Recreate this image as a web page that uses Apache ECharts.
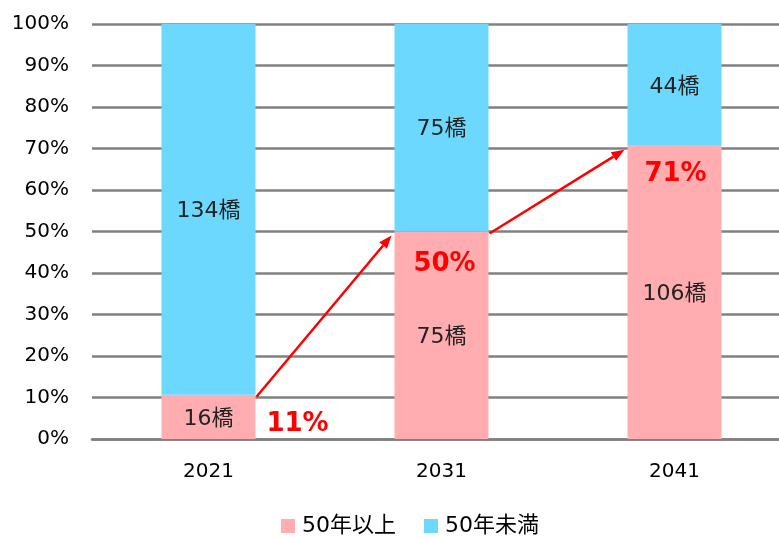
<!DOCTYPE html>
<html>
<head>
<meta charset="utf-8">
<script src="https://cdn.jsdelivr.net/npm/echarts@6/dist/echarts.min.js"></script>
<style>
html, body { margin: 0; padding: 0; background: #fff; }
#bridges { width: 779px; height: 539px; }
</style>
</head>
<body>
<div id="bridges"></div>
<script>
// 年度
var years = ['2021', '2031', '2041']
// 橋の数
var over50 = [16, 75, 106]
var under50 = [134, 75, 44]
var seriesNames = ['50年以上', '50年未満']
var yTicks = [0, 10, 20, 30, 40, 50, 60, 70, 80, 90, 100]

var font = '"DejaVu Sans", "Noto Sans CJK JP", sans-serif'
var pink = '#FFADB0'
var blue = '#6DD8FE'
var barW = 94

var overPct = [], underPct = []
for (var i = 0; i < years.length; i++) {
  var total = over50[i] + under50[i]
  overPct.push(over50[i] / total * 100)
  underPct.push(under50[i] / total * 100)
}

// 赤い%ラベルの位置（バーの上端からずらす）
var pctOffsets = [[89, 30], [3, 33], [1, 29]]

var chart = echarts.init(document.getElementById('bridges'))

var option = {
  backgroundColor: '#fff',
  animation: false,
  textStyle: { fontFamily: font },
  grid: { left: 92, right: -12, top: 24, bottom: 100, outerBoundsMode: 'none', containLabel: false },
  legend: {
    data: seriesNames,
    top: 514,
    left: 281,
    padding: 0,
    icon: 'rect',
    itemWidth: 14,
    itemHeight: 14,
    itemGap: 28,
    textStyle: { fontSize: 22, lineHeight: 24, color: '#000', fontFamily: font, padding: [0, 0, 0, 2] }
  },
  xAxis: {
    type: 'category',
    data: years,
    axisLine: { lineStyle: { color: '#808080', width: 2.5 } },
    axisTick: { show: false },
    axisLabel: { color: '#000', fontSize: 20, margin: 23 }
  },
  yAxis: {
    type: 'value',
    min: yTicks[0],
    max: yTicks[yTicks.length - 1],
    interval: 10,
    axisLine: { show: false },
    axisTick: { show: false },
    splitLine: { lineStyle: { color: '#808080', width: 2.5 } },
    axisLabel: { color: '#000', fontSize: 20, margin: 23, formatter: '{value}%' }
  },
  series: [
    {
      name: seriesNames[0],
      type: 'bar',
      stack: 'all',
      barWidth: barW,
      itemStyle: { color: pink },
      label: {
        show: true,
        position: 'inside',
        offset: [0, 2],
        color: '#222',
        fontSize: 22,
        formatter: function (p) { return over50[p.dataIndex] + '橋' }
      },
      data: overPct,
      markPoint: {
        symbol: 'rect',
        symbolSize: 1,
        itemStyle: { color: 'rgba(0,0,0,0)' },
        label: {
          show: true,
          color: '#FF0000',
          fontSize: 26,
          fontWeight: 'bold',
          fontFamily: font
        },
        data: overPct.map(function (v, i) {
          return {
            coord: [i, v],
            value: Math.round(v) + '%',
            label: { offset: pctOffsets[i], formatter: Math.round(v) + '%' }
          }
        })
      }
    },
    {
      name: seriesNames[1],
      type: 'bar',
      stack: 'all',
      barWidth: barW,
      itemStyle: { color: blue },
      label: {
        show: true,
        position: 'inside',
        offset: [0, 2],
        color: '#222',
        fontSize: 22,
        formatter: function (p) { return under50[p.dataIndex] + '橋' }
      },
      data: underPct
    }
  ]
}
chart.setOption(option)

// 矢印
function arrow(x1, y1, x2, y2) {
  var ang = Math.atan2(y2 - y1, x2 - x1)
  var hl = 13, hw = 5
  var bx = x2 - hl * Math.cos(ang), by = y2 - hl * Math.sin(ang)
  var px = -Math.sin(ang) * hw, py = Math.cos(ang) * hw
  return [
    {
      type: 'line',
      shape: { x1: x1, y1: y1, x2: bx, y2: by },
      style: { stroke: '#FF0000', lineWidth: 2.5 }
    },
    {
      type: 'polygon',
      shape: { points: [[x2, y2], [bx + px, by + py], [bx - px, by - py]] },
      style: { fill: '#FF0000' }
    }
  ]
}
var graphics = []
for (var k = 0; k < years.length - 1; k++) {
  var a = chart.convertToPixel({ seriesIndex: 0 }, [k, overPct[k]])
  var b = chart.convertToPixel({ seriesIndex: 0 }, [k + 1, overPct[k + 1]])
  var sx = a[0] + barW / 2 + 1, sy = a[1] + 2
  var ex = b[0] - barW / 2 - 3, ey = b[1] + 4
  graphics = graphics.concat(arrow(sx, sy, ex, ey))
}
chart.setOption({ graphic: graphics })
</script>
</body>
</html>
